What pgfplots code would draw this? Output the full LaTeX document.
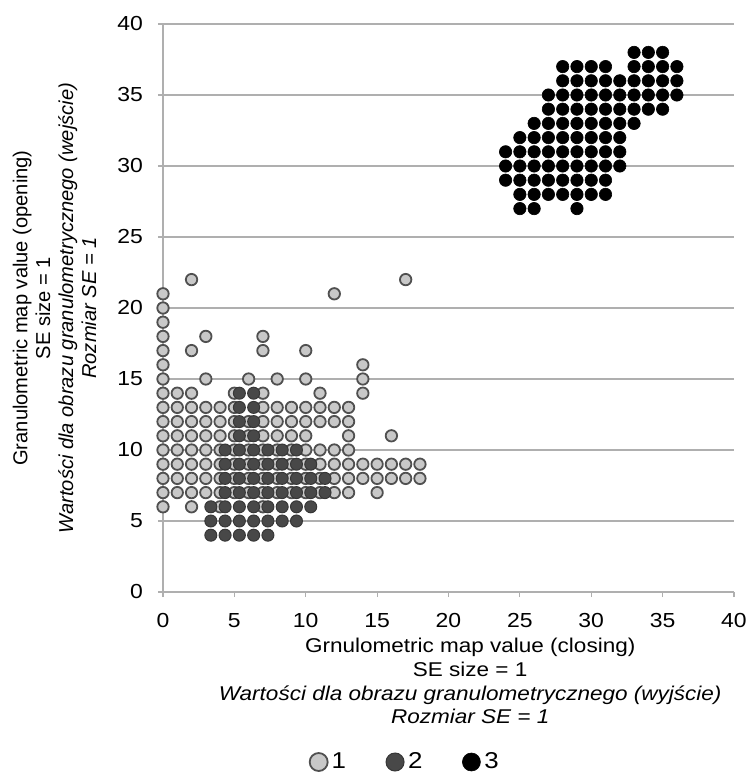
\documentclass[border=0pt]{standalone}
\usepackage{pgfplots}
\pgfplotsset{compat=1.18}
\usepackage{fontspec}
\setmainfont{Liberation Sans}
\newfontfamily\hfont[FakeStretch=1.13]{Liberation Sans}
\definecolor{c1fill}{RGB}{200,200,200}
\definecolor{c1draw}{RGB}{80,80,80}
\definecolor{c2}{RGB}{72,72,72}
\definecolor{c2draw}{RGB}{55,55,55}
\definecolor{gridc}{RGB}{175,175,175}
\begin{document}
\begin{tikzpicture}
\begin{axis}[
  scale only axis, width=285.5bp, height=284bp,
  xmin=0, xmax=40, ymin=0, ymax=40,
  xtick={0,5,...,40}, ytick={0,5,...,40},
  axis x line*=bottom, axis y line*=left,
  axis line style={gridc, line width=0.6bp, -},
  ymajorgrids, grid style={gridc, line width=0.6bp},
  tick style={gridc, line width=0.6bp}, tick align=outside, major tick length=2.5bp,
  /pgf/number format/assume math mode=true,
  ticklabel style={font=\hfont\fontsize{10.2}{12}\selectfont},
  xticklabel style={yshift=-4.7bp},
  yticklabel style={xshift=-4bp},
  clip=false,
  xlabel={Grnulometric map value (closing)\\SE size = 1\\\textit{Wartości dla obrazu granulometrycznego (wyjście)}\\\textit{Rozmiar SE = 1}},
  ylabel={Granulometric map value (opening)\\SE size = 1\\\textit{Wartości dla obrazu granulometrycznego (wejście)}\\\textit{Rozmiar SE = 1}},
  xlabel style={at={(axis description cs:0.538,-0.157)}, anchor=center, align=center, font=\hfont\fontsize{10}{11.85}\selectfont},
  ylabel style={at={(axis description cs:-0.190,0.5)}, anchor=center, align=center, font=\fontsize{10.1}{11.5}\selectfont},
  legend style={at={(axis description cs:0.426,-0.2993)}, anchor=center, draw=none, fill=none,
    legend columns=3, font=\hfont\fontsize{11.5}{13}\selectfont,
    /tikz/every even column/.append style={column sep=18bp}},
  legend image code/.code={\draw[#1] plot coordinates {(0.17cm,0cm)};},
]
% series 1 (light)
\addplot[only marks, mark=*, mark size=2.85bp, mark options={fill=c1fill, draw=c1draw, line width=0.9bp},
  legend image post style={mark size=4.5bp}] coordinates {
(2,22)(17,22)
(0,21)(12,21)
(0,20)(0,19)
(0,18)(3,18)(7,18)
(0,17)(2,17)(7,17)(10,17)
(0,16)(14,16)
(0,15)(3,15)(6,15)(8,15)(10,15)(14,15)
(0,14)(1,14)(2,14)(5,14)(7,14)(11,14)(14,14)
(0,13)(1,13)(2,13)(3,13)(4,13)(5,13)(7,13)(8,13)(9,13)(10,13)(11,13)(12,13)(13,13)
(0,12)(1,12)(2,12)(3,12)(4,12)(5,12)(6,12)(7,12)(8,12)(9,12)(10,12)(11,12)(12,12)(13,12)
(0,11)(1,11)(2,11)(3,11)(4,11)(5,11)(6,11)(7,11)(8,11)(9,11)(10,11)(13,11)(16,11)
(0,10)(1,10)(2,10)(3,10)(4,10)(5,10)(6,10)(7,10)(8,10)(9,10)(10,10)(11,10)(12,10)(13,10)
(0,9)(1,9)(2,9)(3,9)(4,9)(5,9)(6,9)(7,9)(8,9)(9,9)(10,9)(11,9)(12,9)(13,9)(14,9)(15,9)(16,9)(17,9)(18,9)
(0,8)(1,8)(2,8)(3,8)(4,8)(5,8)(6,8)(7,8)(8,8)(9,8)(10,8)(11,8)(12,8)(13,8)(14,8)(15,8)(16,8)(17,8)(18,8)
(0,7)(1,7)(2,7)(3,7)(4,7)(5,7)(6,7)(7,7)(8,7)(9,7)(10,7)(11,7)(12,7)(13,7)(15,7)
(0,6)(2,6)(4,6)(7,6)
};
\addlegendentry{1}
% series 2 (dark grey)
\addplot[only marks, mark=*, mark size=3bp, mark options={fill=c2, draw=c2draw, line width=0.5bp},
  legend image post style={mark size=4.5bp}] coordinates {
(5.35,14)(6.35,14)
(5.35,13)(6.35,13)
(5.35,12)(6.35,12)
(5.35,11)(6.35,11)
(4.35,10)(5.35,10)(6.35,10)(7.35,10)(8.35,10)(9.35,10)
(4.35,9)(5.35,9)(6.35,9)(7.35,9)(8.35,9)(9.35,9)(10.35,9)
(4.35,8)(5.35,8)(6.35,8)(7.35,8)(8.35,8)(9.35,8)(10.35,8)(11.35,8)
(4.35,7)(5.35,7)(6.35,7)(7.35,7)(8.35,7)(9.35,7)(10.35,7)(11.35,7)
(3.35,6)(4.35,6)(5.35,6)(6.35,6)(7.35,6)(8.35,6)(9.35,6)(10.35,6)
(3.35,5)(4.35,5)(5.35,5)(6.35,5)(7.35,5)(8.35,5)(9.35,5)
(3.35,4)(4.35,4)(5.35,4)(6.35,4)(7.35,4)
};
\addlegendentry{2}
% series 3 (black)
\addplot[only marks, mark=*, mark size=3.1bp, mark options={fill=black, draw=black, line width=0.3bp},
  legend image post style={mark size=4.5bp}] coordinates {
(33,38)(34,38)(35,38)
(28,37)(29,37)(30,37)(31,37)(33,37)(34,37)(35,37)(36,37)
(28,36)(29,36)(30,36)(31,36)(32,36)(33,36)(34,36)(35,36)(36,36)
(27,35)(28,35)(29,35)(30,35)(31,35)(32,35)(33,35)(34,35)(35,35)(36,35)
(27,34)(28,34)(29,34)(30,34)(31,34)(32,34)(33,34)(34,34)(35,34)
(26,33)(27,33)(28,33)(29,33)(30,33)(31,33)(32,33)(33,33)
(25,32)(26,32)(27,32)(28,32)(29,32)(30,32)(31,32)(32,32)
(24,31)(25,31)(26,31)(27,31)(28,31)(29,31)(30,31)(31,31)(32,31)
(24,30)(25,30)(26,30)(27,30)(28,30)(29,30)(30,30)(31,30)(32,30)
(24,29)(25,29)(26,29)(27,29)(28,29)(29,29)(30,29)(31,29)
(25,28)(26,28)(27,28)(28,28)(29,28)(30,28)(31,28)
(25,27)(26,27)(29,27)
};
\addlegendentry{3}
\end{axis}
\pgfresetboundingbox
\path (-81.5bp,-91bp) rectangle (291.5bp,296bp);
\end{tikzpicture}
\end{document}
